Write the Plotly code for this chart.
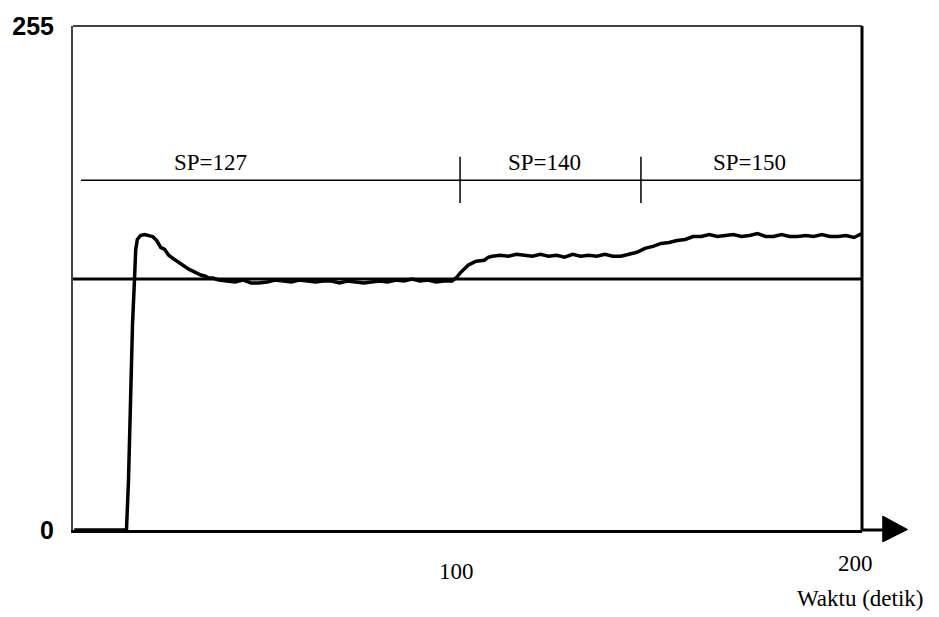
import plotly.graph_objects as go

# ---- data ----
time_s = [4, 6, 8, 10, 12, 14, 16, 17, 17.5, 18.0, 18.5, 19.0, 19.3, 19.7, 20.5, 21.5,
          22.5, 23.5, 24.5, 25.5, 26.5, 27.5, 28.5, 29.5, 30.5, 31.5, 32.5, 33.5, 34.5,
          35.5, 36.5, 37.5, 38.5, 40, 42, 44, 46, 48, 50, 52, 54, 56, 58, 60, 62, 64, 66,
          68, 70, 72, 74, 76, 78, 80, 82, 84, 86, 88, 90, 92, 94, 96, 98, 99, 100, 101,
          102, 103, 104, 106, 107, 108, 110, 112, 114, 116, 118, 120, 122, 124, 126, 128,
          130, 132, 134, 136, 138, 140, 142, 144, 146, 148, 150, 152, 154, 156, 158, 160,
          162, 164, 166, 168, 170, 172, 174, 176, 178, 180, 182, 184, 186, 188, 190, 192,
          194, 196, 198, 200]
response = [0, 0, 0, 0, 0, 0, 0, 0, 25, 67, 104, 127, 142, 147, 149, 149.5,
            149, 148.5, 146.5, 143, 142, 139, 137.5, 136, 134.5, 133.5, 132, 131, 130,
            129, 128.5, 127.5, 127.5, 126.5, 126, 125.5, 126.5, 125, 125, 125.5, 126.5, 126, 125.5, 126.5, 126, 125.5, 126,
            126, 125, 126, 125.5, 125, 125.5, 126, 125.5, 126.5, 126, 127, 126, 126.5, 125.5, 126, 126, 127.5, 130, 132,
            134, 135, 136, 136.5, 138, 138.5, 139, 138.5, 139.5, 139, 138.5, 139.5, 138.5, 139, 138, 139.5,
            138.5, 139, 138.5, 139.5, 138.5, 138.5, 139.5, 140.5, 142.5, 143.5, 145, 145.5, 146.5, 147, 148.5, 148.5,
            149.5, 148.5, 149, 149.5, 148.5, 149, 150, 148.5, 148.5, 149.5, 148.5, 148.5, 149, 148.5, 149.5, 148.5,
            148.5, 149, 148, 150]

ref_level = 127                      # thick reference line
sp_line_level = 177                  # thin set-point annotation line
sp_change_times = [100, 145]         # set-point change marks
sp_labels = ["SP=127", "SP=140", "SP=150"]
sp_label_times = [38, 121, 172]
y_tick_vals = [0, 255]
y_tick_text = ["0", "255"]
x_label_vals = [99, 198.3]
x_label_text = ["100", "200"]
x_range = [3.695, 200]
y_range = [0, 255]

serif = "Liberation Serif, Times New Roman, serif"

fig = go.Figure()
fig.add_trace(go.Scatter(x=time_s, y=response, mode="lines",
                         line=dict(color="black", width=3.5), showlegend=False,
                         hoverinfo="skip"))

shapes = []
# thick reference line at 127
shapes.append(dict(type="line", xref="paper", yref="y", x0=0, x1=1,
                   y0=ref_level, y1=ref_level, line=dict(color="black", width=3),
                   layer="below"))
# thin SP line
shapes.append(dict(type="line", xref="x", yref="y", x0=5.7, x1=201,
                   y0=sp_line_level, y1=sp_line_level,
                   line=dict(color="black", width=1.5)))
# SP change marks
for t in sp_change_times:
    shapes.append(dict(type="line", xref="x", yref="y", x0=t, x1=t,
                       y0=165.5, y1=188.8, line=dict(color="black", width=1.5)))
# frame: top + right
shapes.append(dict(type="line", xref="paper", yref="paper", x0=0, x1=1, y0=1, y1=1,
                   line=dict(color="#444", width=2)))
shapes.append(dict(type="line", xref="paper", yref="paper", x0=1, x1=1, y0=0, y1=1,
                   line=dict(color="black", width=3)))
# axis arrow
shapes.append(dict(type="line", xref="paper", yref="paper", x0=1, x1=1.027, y0=0, y1=0,
                   line=dict(color="black", width=3)))
shapes.append(dict(type="path", xref="paper", yref="paper",
                   path="M 1.0263 0.0276 L 1.0263 -0.0236 L 1.0577 0.001 Z",
                   fillcolor="black", line=dict(color="black", width=1)))

annotations = []
for lab, t in zip(sp_labels, sp_label_times):
    annotations.append(dict(x=t, y=sp_line_level, xref="x", yref="y", text=lab,
                            showarrow=False, yanchor="bottom", yshift=3,
                            font=dict(family=serif, size=23, color="black")))
label_y = [-0.0827, -0.0669]
for v, txt, yy in zip(x_label_vals, x_label_text, label_y):
    annotations.append(dict(x=v, y=yy, xref="x", yref="paper", text=txt,
                            showarrow=False, yanchor="middle",
                            font=dict(family=serif, size=23, color="black")))
annotations.append(dict(x=1.0, y=-0.136, xref="paper", yref="paper", text="Waktu (detik)",
                        showarrow=False, yanchor="middle", xanchor="center", xshift=-2,
                        font=dict(family=serif, size=23, color="black")))

fig.update_layout(
    width=939, height=617,
    margin=dict(l=65, r=77, t=22, b=87),
    paper_bgcolor="white", plot_bgcolor="white",
    shapes=shapes, annotations=annotations,
    xaxis=dict(range=x_range, showgrid=False, zeroline=False, showticklabels=False,
               ticks="", showline=True, linecolor="black", linewidth=3),
    yaxis=dict(range=y_range, showgrid=False, zeroline=False, tickvals=y_tick_vals,
               ticktext=y_tick_text, ticks="", showline=True, linecolor="#444",
               linewidth=2, ticklabelstandoff=12,
               tickfont=dict(family="Liberation Sans, Arial, sans-serif",
                             size=25, color="black", weight="bold")),
)

fig.write_html("out.html", config={"displayModeBar": False},
               post_script="document.body.style.margin='0px';document.body.style.overflow='hidden';")
